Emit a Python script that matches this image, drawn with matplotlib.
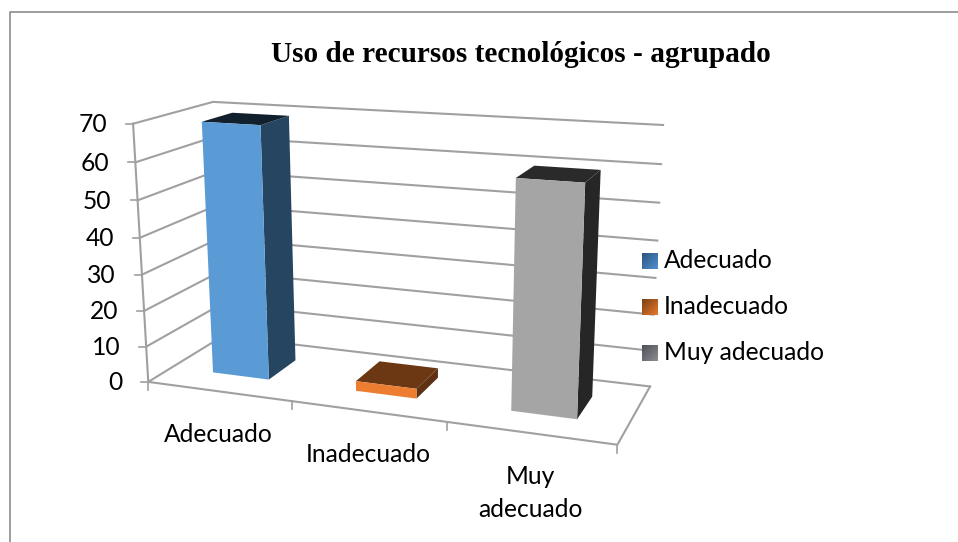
import numpy as np
import matplotlib
matplotlib.use("Agg")
import matplotlib.pyplot as plt
from matplotlib.patches import Polygon

# =========================
# DATA
# =========================
categories = ["Adecuado", "Inadecuado", "Muy\nadecuado"]
legend_labels = ["Adecuado", "Inadecuado", "Muy adecuado"]
values = [69.3, 2.7, 60]
y_ticks = [0, 10, 20, 30, 40, 50, 60, 70]
title = "Uso de recursos tecnológicos - agrupado"

# front, side, top colours of each bar
bar_colors = [
    ("#5b9bd5", "#264560", "#12202e"),
    ("#ed7d31", "#5f3113", "#6b3813"),
    ("#a5a5a5", "#262626", "#2a2a2a"),
]
swatch_colors = [
    ("#2c5680", "#4f8fd0"),
    ("#7a3f16", "#e8792a"),
    ("#50505a", "#8c8c92"),
]

GRID = "#a0a0a0"
FONT = "Lato"
FS = 17.7

# =========================
# 3D PROJECTION
# =========================
# calibration: chart box corners (cat, value, depth) -> picture pixels
box_xyz = np.array([
    [0, 0, 0], [3, 0, 0], [0, 0, 1], [3, 0, 1],
    [0, 70, 0], [0, 70, 1], [3, 70, 1], [1, 0, 0], [2, 0, 0],
], dtype=float)
box_px = np.array([
    [147.7, 382.7], [617.7, 444.3], [224, 335.5], [650, 386.7],
    [134.3, 123.3], [211.7, 102], [663.3, 125.3], [291, 401.5], [447, 421.5],
])

A = []
b = []
for (X, Y, Z), (u, v) in zip(box_xyz, box_px):
    A.append([X, Y, Z, 1, 0, 0, 0, 0, -u * X, -u * Y, -u * Z])
    A.append([0, 0, 0, 0, X, Y, Z, 1, -v * X, -v * Y, -v * Z])
    b += [u, v]
P = np.linalg.lstsq(np.array(A), np.array(b), rcond=None)[0]
P = np.append(P, 1).reshape(3, 4)


def proj(x, y, z):
    p = P @ np.array([x, y, z, 1.0])
    return p[0] / p[2], p[1] / p[2]


# =========================
# FIGURE
# =========================
fig = plt.figure(figsize=(9.58, 5.42), dpi=100)
ax = fig.add_axes([0, 0, 1, 1])
ax.set_xlim(0, 958)
ax.set_ylim(542, 0)
ax.axis("off")

# outer frame of the pasted chart
ax.plot([9.7, 9.7, 958], [542, 11.7, 11.7], color="#8c8c8c", lw=1.2)

ax.text(521, 54.5, title, family="Liberation Serif", weight="bold", fontsize=21.1,
        ha="center", va="center", color="black")

# =========================
# WALLS AND GRID
# =========================
for t in y_ticks:
    pts = [proj(0, t, 0), proj(0, t, 1), proj(3, t, 1)]
    ax.plot(*zip(*pts), color=GRID, lw=1.5, zorder=1, solid_joinstyle="miter")
    x0, y0 = pts[0]
    ax.plot([x0 - 7, x0], [y0, y0], color=GRID, lw=1.2, zorder=1)
    ax.text(x0 - 26, y0 + 1, str(t), family=FONT, fontsize=FS, ha="right", va="center")

ax.plot(*zip(proj(0, 0, 0), proj(0, 70, 0)), color=GRID, lw=1.5, zorder=1)
ax.plot(*zip(proj(0, 0, 0), proj(3, 0, 0), proj(3, 0, 1)), color=GRID, lw=1.5, zorder=1)

for i in range(4):
    x0, y0 = proj(i, 0, 0)
    ax.plot([x0, x0], [y0, y0 + 8], color=GRID, lw=1.2, zorder=1)

# =========================
# BARS
# =========================
gap = 0.3
for i, (val, cols) in enumerate(zip(values, bar_colors)):
    x0, x1 = i + gap, i + 1 - gap
    z0, z1 = gap, 1 - gap
    front = [proj(x0, 0, z0), proj(x1, 0, z0), proj(x1, val, z0), proj(x0, val, z0)]
    side = [proj(x1, 0, z0), proj(x1, 0, z1), proj(x1, val, z1), proj(x1, val, z0)]
    top = [proj(x0, val, z0), proj(x1, val, z0), proj(x1, val, z1), proj(x0, val, z1)]
    for poly, col in zip((side, top, front), (cols[1], cols[2], cols[0])):
        ax.add_patch(Polygon(poly, closed=True, facecolor=col, edgecolor="none", zorder=3))

# =========================
# CATEGORY LABELS
# =========================
for i, cat in enumerate(categories):
    xc, yc = proj(i + 0.5, 0, 0)
    for j, line in enumerate(cat.split("\n")):
        ax.text(xc, yc + 43 + 33 * j, line, family=FONT, fontsize=FS, ha="center", va="center")

# =========================
# LEGEND
# =========================
yy, xx = np.mgrid[0:1:24j, 0:1:24j]
ramp = (xx + yy) / 2
for i, (lab, (c0, c1)) in enumerate(zip(legend_labels, swatch_colors)):
    cmap = matplotlib.colors.LinearSegmentedColormap.from_list("sw", [c0, c1])
    top_y = 253 + 46 * i
    ax.imshow(ramp, cmap=cmap, extent=(642, 658, top_y + 16, top_y), aspect="auto", zorder=4)
    ax.text(664, top_y + 8, lab, family=FONT, fontsize=FS, ha="left", va="center", zorder=4)

ax.set_xlim(0, 958)
ax.set_ylim(542, 0)

fig.savefig("out.png", dpi=100)
